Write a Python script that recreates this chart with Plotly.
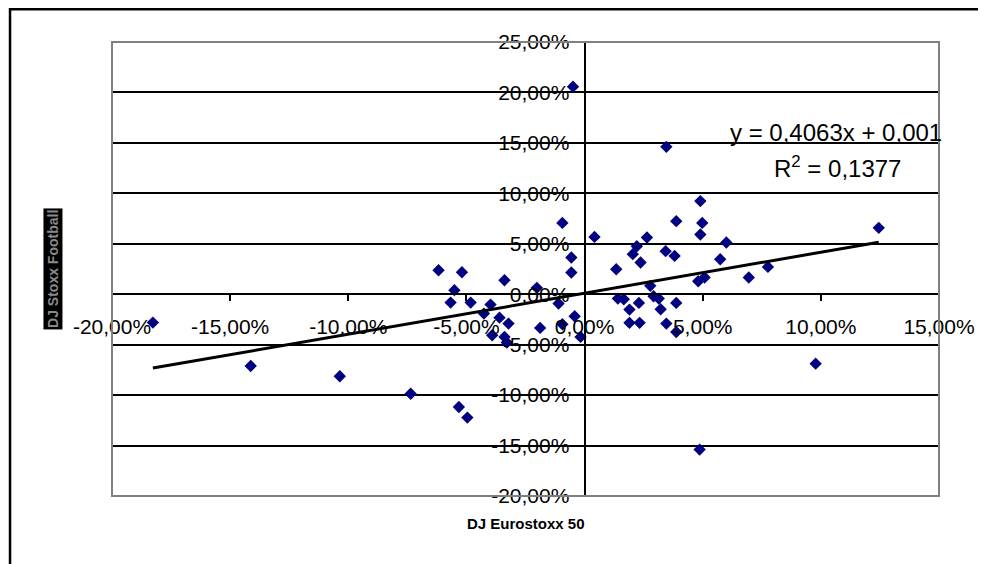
import plotly.graph_objects as go

# Data (percent units)
x_eurostoxx = [-18.27, -14.13, -10.36, -7.36, -5.32, -4.96,
               -6.18, -5.19, -3.39, -5.51, -2.02, -5.67, -4.82, -3.98, -4.26, -3.60,
               -3.22, -3.91, -3.39, -3.29, -1.88, -1.10, -0.94, -0.42, -0.17,
               -0.94, -0.56, -0.56, -0.49,
               0.42, 3.46, 4.90, 3.88, 4.98, 4.90, 2.64, 6.00, 2.21, 2.04, 3.43, 3.81,
               2.37, 1.34, 5.74, 6.95, 5.08, 4.81, 2.78, 2.92, 3.14, 1.41, 1.66, 2.30,
               3.88, 1.90, 3.22, 1.90, 2.33, 3.46, 3.88, 7.76, 12.45, 9.78, 4.87]
y_football = [-2.81, -7.11, -8.13, -9.86, -11.18, -12.23,
              2.38, 2.18, 1.39, 0.40, 0.63, -0.83, -0.83, -1.03, -1.92, -2.32,
              -2.91, -4.07, -4.23, -4.79, -3.34, -0.93, -2.98, -2.18, -4.23,
              7.07, 3.64, 2.15, 20.57,
              5.68, 14.61, 9.23, 7.24, 7.07, 5.92, 5.62, 5.13, 4.76, 3.97, 4.27, 3.80,
              3.14, 2.48, 3.47, 1.66, 1.66, 1.29, 0.83, -0.20, -0.43, -0.43, -0.50, -0.86,
              -0.86, -1.52, -1.49, -2.84, -2.84, -2.91, -3.74, 2.71, 6.58, -6.88, -15.40]

slope = 0.4063
intercept = 0.001 * 100  # in percent units
r_squared = "0,1377"

x_tickvals = [-20, -15, -10, -5, 0, 5, 10, 15]
x_ticktext = ["-20,00%", "-15,00%", "-10,00%", "-5,00%", "0,00%", "5,00%", "10,00%", "15,00%"]
y_tickvals = [-20, -15, -10, -5, 0, 5, 10, 15, 20, 25]
y_ticktext = ["-20,00%", "-15,00%", "-10,00%", "-5,00%", "0,00%", "5,00%", "10,00%",
              "15,00%", "20,00%", "25,00%"]

x_range = [-20, 15]
y_range = [-20, 25]

FONT = "Arial, Liberation Sans, sans-serif"

fig = go.Figure()
fig.add_trace(go.Scatter(
    x=x_eurostoxx, y=y_football, mode="markers",
    marker=dict(symbol="diamond", size=9.5, color="#000080", line=dict(width=0)),
    showlegend=False, cliponaxis=False,
))

xl = [min(x_eurostoxx), max(x_eurostoxx)]
fig.add_trace(go.Scatter(
    x=xl, y=[slope * v + intercept for v in xl], mode="lines",
    line=dict(color="black", width=3), showlegend=False,
))

fig.update_layout(
    width=986, height=564,
    margin=dict(l=104, r=55, t=34, b=76),
    paper_bgcolor="white", plot_bgcolor="white",
    font=dict(family=FONT, color="black"),
    xaxis=dict(
        range=x_range, anchor="free",
        position=(0 - y_range[0]) / (y_range[1] - y_range[0]),
        showgrid=False, zeroline=False,
        showline=True, linecolor="black", linewidth=2,
        ticks="outside", ticklen=6, tickwidth=2, tickcolor="black",
        tickvals=x_tickvals, ticktext=x_ticktext,
        tickfont=dict(size=21, family=FONT), ticklabelstandoff=8,
    ),
    yaxis=dict(
        range=y_range, anchor="free",
        position=(0 - x_range[0]) / (x_range[1] - x_range[0]),
        showgrid=True, gridcolor="black", gridwidth=1.5, zeroline=False,
        showline=True, linecolor="black", linewidth=2,
        ticks="outside", ticklen=6, tickwidth=2, tickcolor="black",
        tickvals=y_tickvals, ticktext=y_ticktext,
        tickfont=dict(size=21, family=FONT), ticklabelstandoff=4,
    ),
    shapes=[
        dict(type="rect", xref="paper", yref="paper", x0=0, x1=1, y0=0, y1=1,
             line=dict(color="#808080", width=2), layer="above"),
        dict(type="rect", xref="paper", yref="paper",
             x0=-0.1233, x1=1.08, y0=-0.19, y1=1.072,
             line=dict(color="black", width=2.5), layer="above"),
    ],
    annotations=[
        dict(text="y = 0,4063x + 0,001", xref="paper", yref="paper",
             x=0.876, y=0.7996, xanchor="center", yanchor="middle", showarrow=False,
             font=dict(size=24, family=FONT, color="black")),
        dict(text="R<sup>2</sup> = " + r_squared, xref="paper", yref="paper",
             x=0.877, y=0.7247, xanchor="center", yanchor="middle", showarrow=False,
             font=dict(size=24, family=FONT, color="black")),
        dict(text="<b>DJ Eurostoxx 50</b>", xref="paper", yref="paper",
             x=0.5, y=-0.061, xanchor="center", yanchor="middle", showarrow=False,
             font=dict(size=15, family=FONT, color="black")),
        dict(text="<b>DJ Stoxx Football</b>", xref="paper", yref="paper",
             x=-0.0714, y=0.5, xanchor="center", yanchor="middle", showarrow=False,
             textangle=-90, bgcolor="black", borderpad=1,
             font=dict(size=14, family=FONT, color="#8a8a8a")),
    ],
)

fig.write_html("out.html")
